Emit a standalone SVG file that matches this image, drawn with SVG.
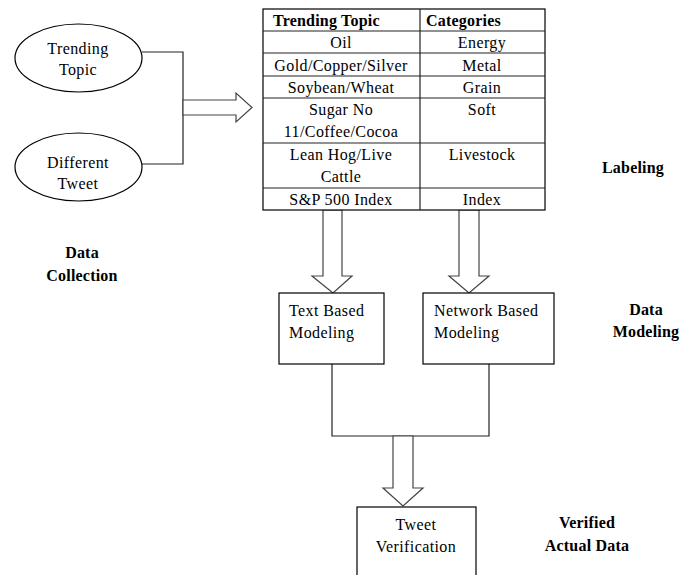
<svg xmlns="http://www.w3.org/2000/svg" width="696" height="575" viewBox="0 0 696 575">
<style>
text{font-family:'Liberation Serif','DejaVu Serif',serif;font-size:16px;fill:#000;letter-spacing:0.4px}
.c{text-anchor:middle}
.b{font-weight:bold;letter-spacing:0.2px}
.box{fill:#fff;stroke:#000;stroke-width:1.2}
.ln{fill:none;stroke:#222;stroke-width:1.2}
.ha{fill:#fff;stroke:#444;stroke-width:1.2;stroke-linejoin:miter}
</style>
<rect width="696" height="575" fill="#fff"/>
<g id="connectors">
<polyline class="ln" points="142,52 183,52 183,164 142,164"/>
<polygon class="ha" points="183,100 236,100 236,93 252,107.5 236,122 236,115 183,115"/>
<polygon class="ha" points="323,210 342,210 342,276 352,276 333,293 312,276 323,276"/>
<polygon class="ha" points="459,210 479,210 479,276 489,276 469,293 449,276 459,276"/>
<polyline class="ln" points="332,364 332,436 489,436 489,364"/>
<polygon class="ha" points="393,436 413,436 413,488 423,488 403,506 383,488 393,488"/>
</g>
<g id="trending-topic">
<ellipse class="box" cx="78.5" cy="58" rx="63.5" ry="34"/>
<text class="c" x="78" y="54">Trending</text>
<text class="c" x="78" y="75">Topic</text>
</g>
<g id="different-tweet">
<ellipse class="box" cx="78.5" cy="167" rx="63.5" ry="34"/>
<text class="c" x="78" y="168">Different</text>
<text class="c" x="78" y="189">Tweet</text>
</g>
<g id="table">
<rect class="box" x="263" y="9" width="282" height="201"/>
<g class="ln">
<line x1="420" y1="9" x2="420" y2="210"/>
<line x1="263" y1="31" x2="545" y2="31"/>
<line x1="263" y1="53" x2="545" y2="53"/>
<line x1="263" y1="76" x2="545" y2="76"/>
<line x1="263" y1="98" x2="545" y2="98"/>
<line x1="263" y1="143" x2="545" y2="143"/>
<line x1="263" y1="188" x2="545" y2="188"/>
</g>
<text class="b" x="273" y="26">Trending Topic</text>
<text class="b" x="426" y="26">Categories</text>
<text class="c" x="341" y="48">Oil</text>
<text class="c" x="482" y="48">Energy</text>
<text class="c" x="341" y="71">Gold/Copper/Silver</text>
<text class="c" x="482" y="71">Metal</text>
<text class="c" x="341" y="93">Soybean/Wheat</text>
<text class="c" x="482" y="93">Grain</text>
<text class="c" x="341" y="115">Sugar No</text>
<text class="c" x="341" y="137">11/Coffee/Cocoa</text>
<text class="c" x="482" y="115">Soft</text>
<text class="c" x="341" y="160">Lean Hog/Live</text>
<text class="c" x="341" y="182">Cattle</text>
<text class="c" x="482" y="160">Livestock</text>
<text class="c" x="341" y="205">S&amp;P 500 Index</text>
<text class="c" x="482" y="205">Index</text>
</g>
<g id="text-based-modeling">
<rect class="box" x="279" y="293" width="105" height="71"/>
<text x="289" y="316">Text Based</text>
<text x="289" y="338">Modeling</text>
</g>
<g id="network-based-modeling">
<rect class="box" x="423" y="293" width="131" height="71"/>
<text x="434" y="316">Network Based</text>
<text x="434" y="338">Modeling</text>
</g>
<g id="tweet-verification">
<rect class="box" x="357" y="507" width="119" height="90"/>
<text class="c" x="416" y="530">Tweet</text>
<text class="c" x="416" y="552">Verification</text>
</g>
<g id="labels">
<text class="c b" x="82" y="258">Data</text>
<text class="c b" x="82" y="281">Collection</text>
<text class="c b" x="633" y="173">Labeling</text>
<text class="c b" x="646" y="315">Data</text>
<text class="c b" x="646" y="337">Modeling</text>
<text class="c b" x="587" y="528">Verified</text>
<text class="c b" x="587" y="551">Actual Data</text>
</g>
</svg>
